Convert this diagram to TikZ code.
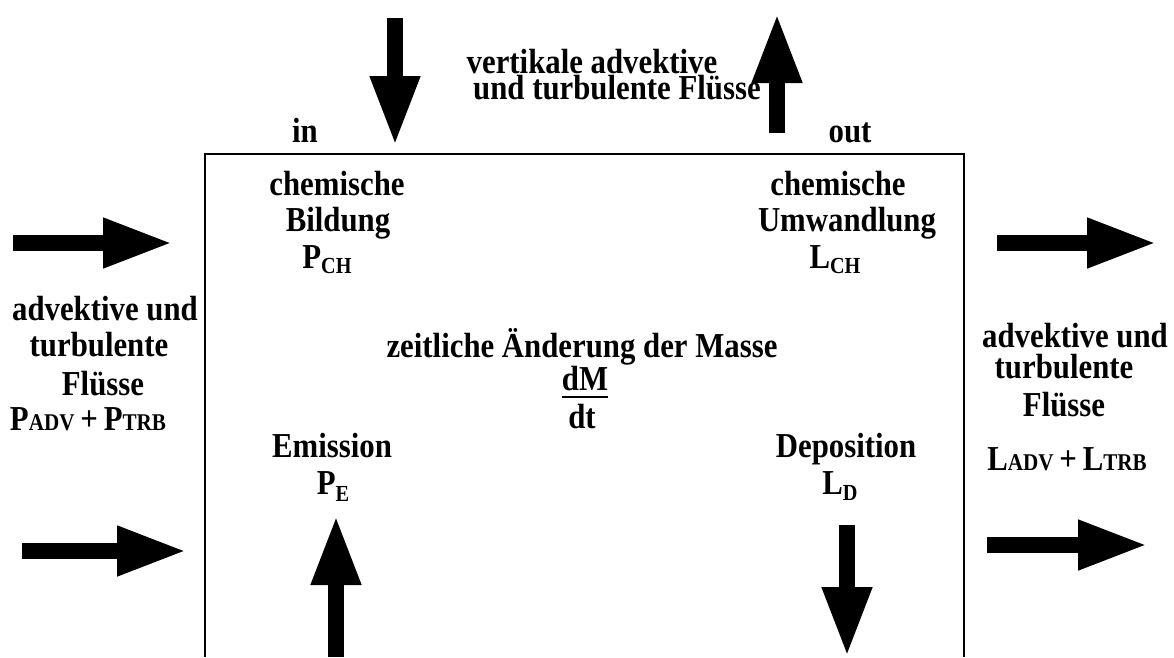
\documentclass[tikz,border=0pt]{standalone}
\usepackage{fontspec}
\setmainfont{Liberation Serif}[FakeStretch=0.88]
\usetikzlibrary{arrows.meta}
\newcommand\lowsub[2][-6pt]{\raisebox{#1}{\fontsize{23}{23}\selectfont #2}}
\newcommand\capsm[1]{{\fontsize{24}{24}\selectfont #1}}
\begin{document}
\begin{tikzpicture}[x=1pt,y=-1pt,
  txt/.style={font=\fontsize{35}{35}\selectfont\bfseries, anchor=base, inner sep=0pt},
  fat/.style={line width=16pt, -{Triangle[length=70pt,width=46pt]}},
  boxline/.style={line width=1.5pt}]
\useasboundingbox (0,0) rectangle (1174,657);
% box open at bottom
\coordinate (bl) at (205,657);
\coordinate (tl) at (205,154);
\coordinate (tr) at (964,154);
\coordinate (br) at (964,657);
\draw[boxline] (bl) -- (tl) -- (tr) -- (br);
% arrows
\coordinate (l1s) at (13,243);  \coordinate (l1e) at (173,243);
\coordinate (l2s) at (22,551);  \coordinate (l2e) at (187,551);
\coordinate (r1s) at (997,243); \coordinate (r1e) at (1157,243);
\coordinate (r2s) at (987,545); \coordinate (r2e) at (1148,545);
\coordinate (tds) at (395,18);  \coordinate (tde) at (395,146);
\coordinate (tus) at (777,133); \coordinate (tue) at (777,13);
\coordinate (eus) at (336,657); \coordinate (eue) at (336,515);
\coordinate (dds) at (847,525); \coordinate (dde) at (847,657);
\draw[fat] (l1s) -- (l1e);
\draw[fat] (l2s) -- (l2e);
\draw[fat] (r1s) -- (r1e);
\draw[fat] (r2s) -- (r2e);
\draw[fat] (tds) -- (tde);
\draw[fat] (tus) -- (tue);
\draw[fat] (eus) -- (eue);
\draw[fat] (dds) -- (dde);
% top texts
\node[txt] (v1) at (592,73) {vertikale advektive};
\node[txt] (v2) at (617,99) {und turbulente Flüsse};
\node[txt] (in) at (305,142) {in};
\node[txt] (out) at (850,142) {out};
% inside box
\node[txt] (cb1) at (337,195) {chemische};
\node[txt] (cb2) at (338,231) {Bildung};
\node[txt] (cb3) at (327,268) {P\lowsub[-5pt]{CH}};
\node[txt] (cu1) at (838,195) {chemische};
\node[txt] (cu2) at (847,231) {Umwandlung};
\node[txt] (cu3) at (835,268) {L\lowsub[-5pt]{CH}};
\node[txt] (z) at (582,357) {zeitliche Änderung der Masse};
\node[txt] (dM) at (585,390) {dM};
\node[txt] (dt) at (582,428) {dt};
\draw[line width=2.5pt] ([yshift=-7pt]dM.base west) -- ([yshift=-7pt]dM.base east);
\node[txt] (em) at (332,457) {Emission};
\node[txt] (pe) at (333,494) {P\lowsub[-7pt]{E}};
\node[txt] (de) at (846,457) {Deposition};
\node[txt] (ld) at (840,494) {L\lowsub[-6pt]{D}};
% left side
\node[txt] (la1) at (105,320) {advektive und};
\node[txt] (la2) at (99,356) {turbulente};
\node[txt] (la3) at (103,395) {Flüsse};
\node[txt] (la4) at (88,430) {P\capsm{ADV}\,+\,P\capsm{TRB}};
% right side
\node[txt] (ra1) at (1075,347) {advektive und};
\node[txt] (ra2) at (1064,378) {turbulente};
\node[txt] (ra3) at (1064,416) {Flüsse};
\node[txt] (ra4) at (1067,470) {L\capsm{ADV}\,+\,L\capsm{TRB}};
\end{tikzpicture}
\end{document}
